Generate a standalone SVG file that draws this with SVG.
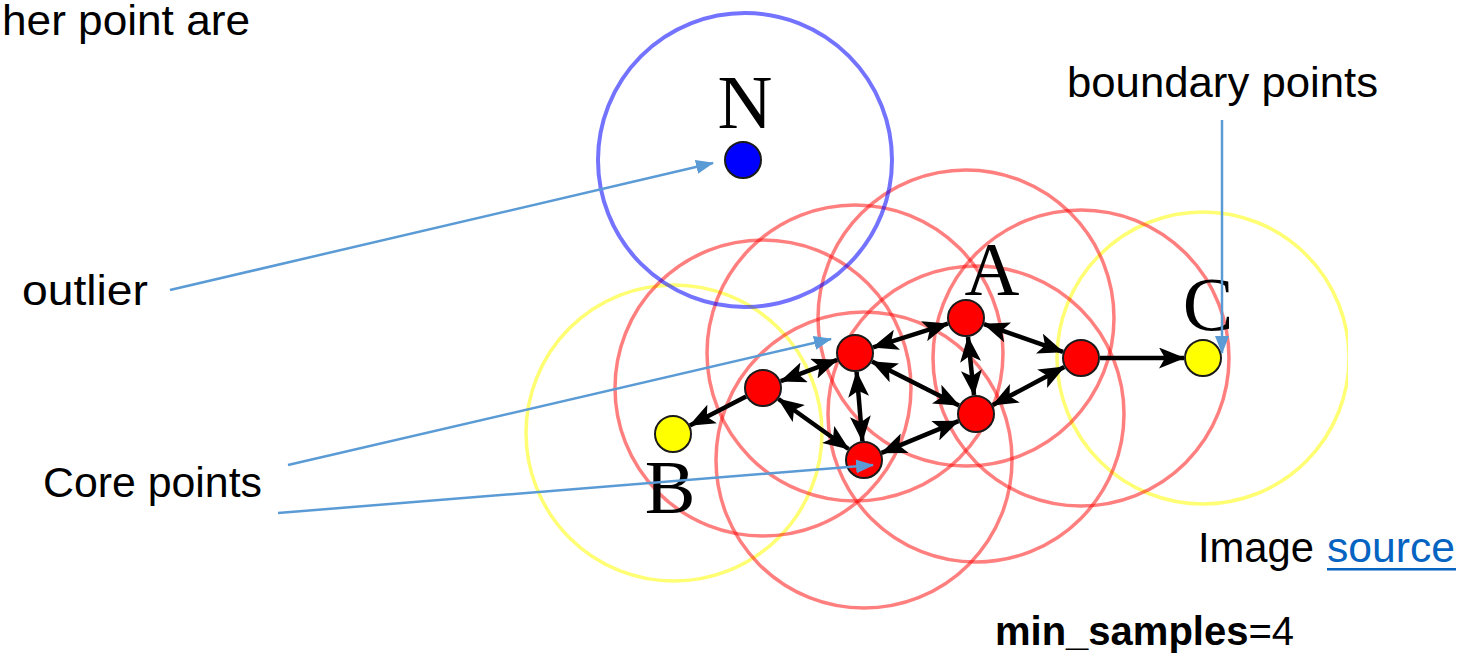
<svg xmlns="http://www.w3.org/2000/svg" width="1469" height="656" viewBox="0 0 1469 656">
<style>
.txt{font-family:"Liberation Sans","Open Sans",sans-serif;font-size:43px;fill:#000}
.lbl{font-family:"Liberation Serif","Times New Roman",serif;font-size:76px;fill:#000;text-anchor:middle}
.rc{fill:none;stroke:#ff0000;stroke-opacity:0.5;stroke-width:3.5}
.yc{fill:none;stroke:#ffff00;stroke-opacity:0.55;stroke-width:3.5}
.bc{fill:none;stroke:#0000ff;stroke-opacity:0.55;stroke-width:4}
.core{fill:#ff0000;stroke:#1a1a1a;stroke-width:2}
.border{fill:#ffff00;stroke:#1a1a1a;stroke-width:2}
.noise{fill:#0000ff;stroke:#1a1a1a;stroke-width:2}
.blk{stroke:#000;stroke-width:4.5;fill:none}
.dbl{marker-start:url(#ah);marker-end:url(#ah)}
.one{marker-end:url(#ah)}
.ann{stroke:#5b9bd5;stroke-width:2.5;fill:none;marker-end:url(#bh)}
</style>
<defs>
<marker id="ah" viewBox="0 0 26 21" refX="25" refY="10.5" markerWidth="26" markerHeight="21" markerUnits="userSpaceOnUse" orient="auto-start-reverse">
<path d="M0,0 L26,10.5 L0,21 L6,10.5 z" fill="#000"/>
</marker>
<marker id="bh" viewBox="0 0 18 14" refX="17" refY="7" markerWidth="18" markerHeight="14" markerUnits="userSpaceOnUse" orient="auto">
<path d="M0,0 L18,7 L0,14 z" fill="#5b9bd5"/>
</marker>
<clipPath id="clipR"><rect x="0" y="0" width="1348" height="656"/></clipPath>
<clipPath id="clipC"><rect x="0" y="0" width="1229" height="656"/></clipPath>
</defs>

<g id="texts">
<text class="txt" x="2" y="35" textLength="248" lengthAdjust="spacingAndGlyphs">her point are</text>
<text class="txt" x="1067" y="97" textLength="311" lengthAdjust="spacingAndGlyphs">boundary points</text>
<text class="txt" x="22" y="305" textLength="126" lengthAdjust="spacingAndGlyphs">outlier</text>
<text class="txt" x="43" y="497" textLength="219" lengthAdjust="spacingAndGlyphs">Core points</text>
<text class="txt" x="1198" y="562" textLength="116" lengthAdjust="spacingAndGlyphs">Image</text>
<text class="txt" x="1327" y="562" textLength="128" lengthAdjust="spacingAndGlyphs" style="fill:#0563c1">source</text>
<rect x="1327" y="568" width="129" height="2.5" fill="#0563c1"/>
<text class="txt" x="995" y="645" style="font-size:40px"><tspan font-weight="bold">min_samples</tspan>=4</text>
</g>

<g id="neighborhoods" clip-path="url(#clipR)">
<circle class="yc" cx="674" cy="433" r="148"/>
<circle class="yc" cx="1203" cy="358" r="146"/>
<circle class="rc" cx="763" cy="388" r="148"/>
<circle class="rc" cx="855" cy="353" r="148"/>
<circle class="rc" cx="966" cy="318" r="148"/>
<circle class="rc" cx="864" cy="460" r="148"/>
<circle class="rc" cx="976" cy="414" r="148"/>
<circle class="rc" cx="1081" cy="358" r="148"/>
<circle class="bc" cx="745" cy="160" r="147"/>
</g>

<g id="connectors">
<line class="blk dbl" x1="780.8" y1="381.2" x2="837.2" y2="359.8"/>
<line class="blk one" x1="746.1" y1="396.6" x2="689.9" y2="425.4"/>
<line class="blk dbl" x1="778.5" y1="399.0" x2="848.5" y2="449.0"/>
<line class="blk dbl" x1="856.6" y1="371.9" x2="862.4" y2="441.1"/>
<line class="blk dbl" x1="873.1" y1="347.3" x2="947.9" y2="323.7"/>
<line class="blk dbl" x1="872.0" y1="361.6" x2="959.0" y2="405.4"/>
<line class="blk dbl" x1="968.0" y1="336.9" x2="974.0" y2="395.1"/>
<line class="blk dbl" x1="984.0" y1="324.2" x2="1063.0" y2="351.8"/>
<line class="blk dbl" x1="992.8" y1="405.1" x2="1064.2" y2="366.9"/>
<line class="blk dbl" x1="881.6" y1="452.8" x2="958.4" y2="421.2"/>
<line class="blk one" x1="1100" y1="358" x2="1184" y2="358"/>
</g>

<g id="node-N"><circle class="noise" cx="743" cy="160" r="18"/><text class="lbl" x="745" y="128">N</text></g>
<g id="node-P1"><circle class="core" cx="763" cy="388" r="18"/></g>
<g id="node-P2"><circle class="core" cx="855" cy="353" r="18"/></g>
<g id="node-A"><circle class="core" cx="966" cy="318" r="18"/><text class="lbl" x="992" y="295">A</text></g>
<g id="node-P4"><circle class="core" cx="864" cy="460" r="18"/></g>
<g id="node-P5"><circle class="core" cx="976" cy="414" r="18"/></g>
<g id="node-P6"><circle class="core" cx="1081" cy="358" r="18"/></g>
<g id="node-B"><circle class="border" cx="673" cy="434" r="18"/><text class="lbl" x="670" y="513">B</text></g>
<g id="node-C"><circle class="border" cx="1203" cy="358" r="18"/><text class="lbl" x="1208" y="330" clip-path="url(#clipC)">C</text></g>

<g id="annotations">
<line class="ann" x1="170" y1="290" x2="713" y2="163"/>
<line class="ann" x1="288" y1="465" x2="831" y2="339"/>
<line class="ann" x1="278" y1="513" x2="873" y2="465"/>
<line class="ann" x1="1222" y1="120" x2="1222" y2="353"/>
</g>
</svg>
